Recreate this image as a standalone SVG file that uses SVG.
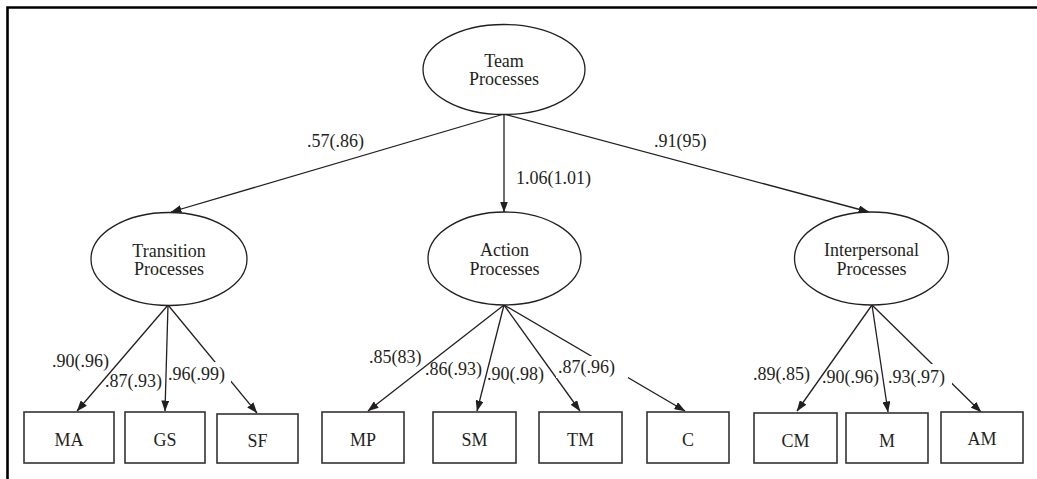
<svg xmlns="http://www.w3.org/2000/svg" width="1037" height="479" viewBox="0 0 1037 479">
  <style>
    text { font-family: "Liberation Serif", "Times New Roman", serif; font-size: 18px; fill: #231f20; }
    .node text { text-anchor: middle; }
    .ell { fill: #ffffff; stroke: #231f20; stroke-width: 1.3; }
    .box { fill: #ffffff; stroke: #333333; stroke-width: 1.6; }
    .edge { stroke: #231f20; stroke-width: 1.3; fill: none; marker-end: url(#arr); }
    .mask { fill: #ffffff; stroke: none; }
    .frame { stroke: #000000; stroke-width: 2.6; fill: none; }
  </style>
  <defs>
    <marker id="arr" markerUnits="userSpaceOnUse" markerWidth="11" markerHeight="8" refX="10.5" refY="4" orient="auto">
      <path d="M0,0 L11,4 L0,8 z" fill="#231f20"/>
    </marker>
  </defs>
  <rect width="1037" height="479" fill="#ffffff"/>
  <path class="frame" d="M7.5,479 L7.5,7.5 L1037,7.5"/>

  <g id="connectors">
    <line class="edge" x1="504" y1="114" x2="171" y2="212"/>
    <line class="edge" x1="504" y1="114" x2="504" y2="212"/>
    <line class="edge" x1="504" y1="114" x2="869" y2="212"/>

    <line class="edge" x1="168" y1="305" x2="77" y2="411"/>
    <line class="edge" x1="168" y1="305" x2="165" y2="411"/>
    <line class="edge" x1="168" y1="305" x2="257" y2="413"/>

    <line class="edge" x1="504" y1="305" x2="368" y2="411"/>
    <line class="edge" x1="504" y1="305" x2="477" y2="411"/>
    <line class="edge" x1="504" y1="305" x2="580" y2="411"/>
    <line class="edge" x1="504" y1="305" x2="685" y2="411"/>

    <line class="edge" x1="872" y1="305" x2="797" y2="411"/>
    <line class="edge" x1="872" y1="305" x2="888" y2="412"/>
    <line class="edge" x1="872" y1="305" x2="981" y2="412"/>

    <rect class="mask" x="167" y="362" width="64" height="20"/>
    <rect class="mask" x="556" y="356" width="72" height="22"/>
    <rect class="mask" x="886" y="364" width="66" height="22"/>

    <text x="307" y="147">.57(.86)</text>
    <text x="516" y="184">1.06(1.01)</text>
    <text x="654" y="147">.91(95)</text>

    <text x="52" y="367">.90(.96)</text>
    <text x="105" y="387">.87(.93)</text>
    <text x="168" y="380">.96(.99)</text>

    <text x="369" y="363">.85(83)</text>
    <text x="425" y="375">.86(.93)</text>
    <text x="487" y="380">.90(.98)</text>
    <text x="558" y="373">.87(.96)</text>

    <text x="753" y="380">.89(.85)</text>
    <text x="822" y="383">.90(.96)</text>
    <text x="888" y="383">.93(.97)</text>
  </g>

  <g id="team" class="node">
    <ellipse class="ell" cx="504" cy="69.5" rx="81" ry="45"/>
    <text x="504" y="67">Team</text>
    <text x="504" y="85">Processes</text>
  </g>
  <g id="transition" class="node">
    <ellipse class="ell" cx="169" cy="259" rx="78" ry="46.5"/>
    <text x="169" y="257">Transition</text>
    <text x="169" y="275">Processes</text>
  </g>
  <g id="action" class="node">
    <ellipse class="ell" cx="504.5" cy="258.5" rx="76.5" ry="46.5"/>
    <text x="504.5" y="256">Action</text>
    <text x="504.5" y="275">Processes</text>
  </g>
  <g id="interpersonal" class="node">
    <ellipse class="ell" cx="871.5" cy="258.5" rx="77" ry="46.5"/>
    <text x="871.5" y="256">Interpersonal</text>
    <text x="871.5" y="275">Processes</text>
  </g>

  <g id="ma" class="node"><rect class="box" x="24" y="412" width="90" height="51"/><text x="69" y="446">MA</text></g>
  <g id="gs" class="node"><rect class="box" x="125" y="412" width="80" height="51"/><text x="165" y="446">GS</text></g>
  <g id="sf" class="node"><rect class="box" x="217" y="414" width="81" height="49"/><text x="257.5" y="447">SF</text></g>
  <g id="mp" class="node"><rect class="box" x="322" y="412" width="82" height="51"/><text x="363" y="446">MP</text></g>
  <g id="sm" class="node"><rect class="box" x="433" y="412" width="83" height="51"/><text x="474.5" y="446">SM</text></g>
  <g id="tm" class="node"><rect class="box" x="539" y="412" width="83" height="51"/><text x="580.5" y="446">TM</text></g>
  <g id="c" class="node"><rect class="box" x="647" y="412" width="82" height="51"/><text x="688" y="446">C</text></g>
  <g id="cm" class="node"><rect class="box" x="754" y="413" width="83" height="50"/><text x="795.5" y="447">CM</text></g>
  <g id="m" class="node"><rect class="box" x="846" y="413" width="82" height="50"/><text x="887" y="447">M</text></g>
  <g id="am" class="node"><rect class="box" x="941" y="412" width="82" height="51"/><text x="982" y="445">AM</text></g>
</svg>
